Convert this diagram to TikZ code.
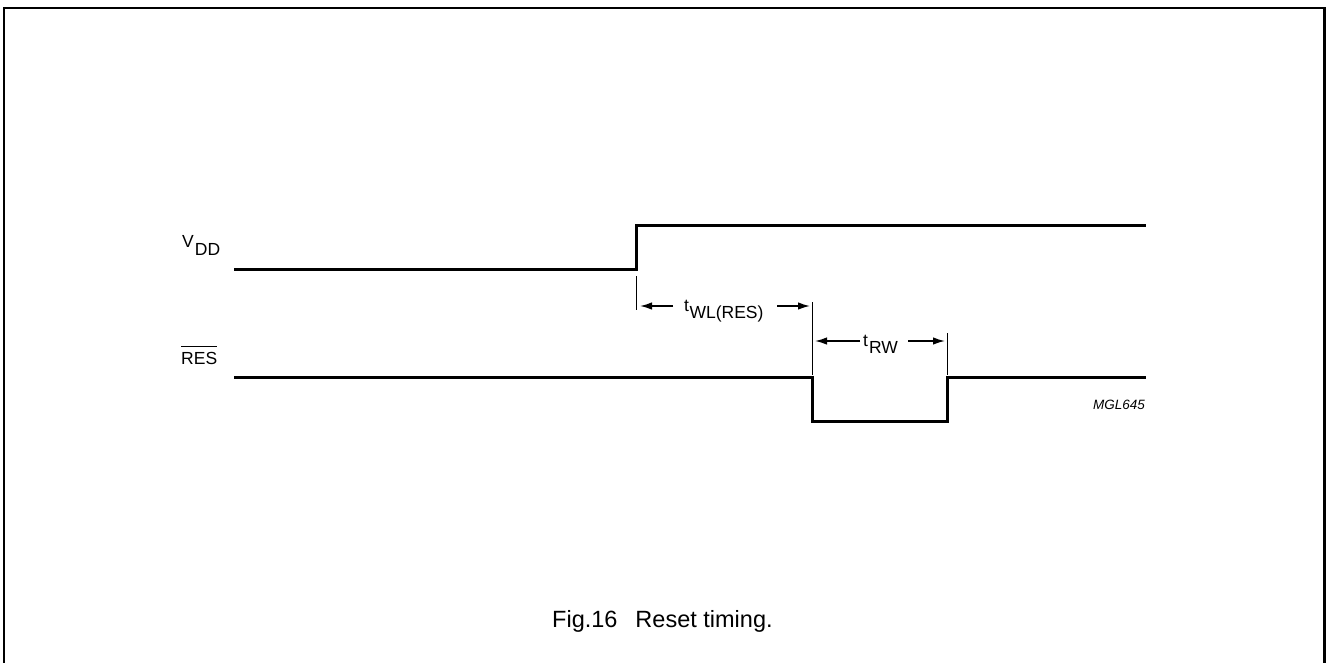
\documentclass[tikz,border=0pt]{standalone}
\usepackage{fontspec}
\setmainfont{Liberation Sans}
\usetikzlibrary{arrows.meta}
\tikzset{
  signal/.style={line width=3pt, line join=miter},
  tick/.style={line width=1pt},
  dim/.style={line width=1.5pt, -{Latex[length=12pt,width=7.5pt]}},
  lbl/.style={inner sep=0pt, anchor=base west, font=\fontsize{17.5}{20}\selectfont},
  frame/.style={line width=2.2pt}
}
\begin{document}
\begin{tikzpicture}[x=1pt,y=-1pt]
\useasboundingbox (0,0) rectangle (1326,662);
\draw[frame] (4,663) -- (4,8) -- (1324.5,8) -- (1324.5,663);

% coordinates
\coordinate (v0) at (234,269);
\coordinate (v1) at (636,269);
\coordinate (v2) at (636,225);
\coordinate (v3) at (1146,225);
\coordinate (r0) at (234,377);
\coordinate (r1) at (812,377);
\coordinate (r2) at (812,421);
\coordinate (r3) at (947,421);
\coordinate (r4) at (947,377);
\coordinate (r5) at (1146,377);

% waveforms
\draw[signal] (v0) -- (v1) -- (v2) -- (v3);
\draw[signal] (r0) -- (r1) -- (r2) -- (r3) -- (r4) -- (r5);

% ticks
\coordinate (t1a) at (636,276);
\coordinate (t1b) at (636,310);
\coordinate (t2a) at (812,302);
\coordinate (t2b) at (812,375);
\coordinate (t3a) at (947,333);
\coordinate (t3b) at (947,375);
\draw[tick] (t1a) -- (t1b);
\draw[tick] (t2a) -- (t2b);
\draw[tick] (t3a) -- (t3b);

% dimension tWL(RES)
\coordinate (a1s) at (673,306);
\coordinate (a1e) at (640,306);
\coordinate (a2s) at (777,306);
\coordinate (a2e) at (810,306);
\draw[dim] (a1s) -- (a1e);
\draw[dim] (a2s) -- (a2e);
\node[lbl] (twl) at (684,311) {t\kern0.5pt\raisebox{-7pt}{WL(RES)}};

% dimension tRW
\coordinate (b1s) at (860,341);
\coordinate (b1e) at (815,341);
\coordinate (b2s) at (908,341);
\coordinate (b2e) at (945,341);
\draw[dim] (b1s) -- (b1e);
\draw[dim] (b2s) -- (b2e);
\node[lbl] (trw) at (863,346) {t\kern1pt\raisebox{-7pt}{RW}};

% signal labels
\node[lbl] (vdd) at (182,247) {V\kern1pt\raisebox{-8pt}{DD}};
\node[lbl] (res) at (181,364) {RES};
\draw[line width=1pt] ([yshift=5pt]res.north west) -- ([yshift=5pt]res.north east);

% code
\node[lbl, font=\fontsize{13.5}{16}\selectfont\itshape] (code) at (1093,409) {MGL645};

% caption
\node[lbl, font=\fontsize{23.5}{28}\selectfont] (cap) at (552,627) {Fig.16\hspace{18pt}Reset timing.};
\end{tikzpicture}
\end{document}
